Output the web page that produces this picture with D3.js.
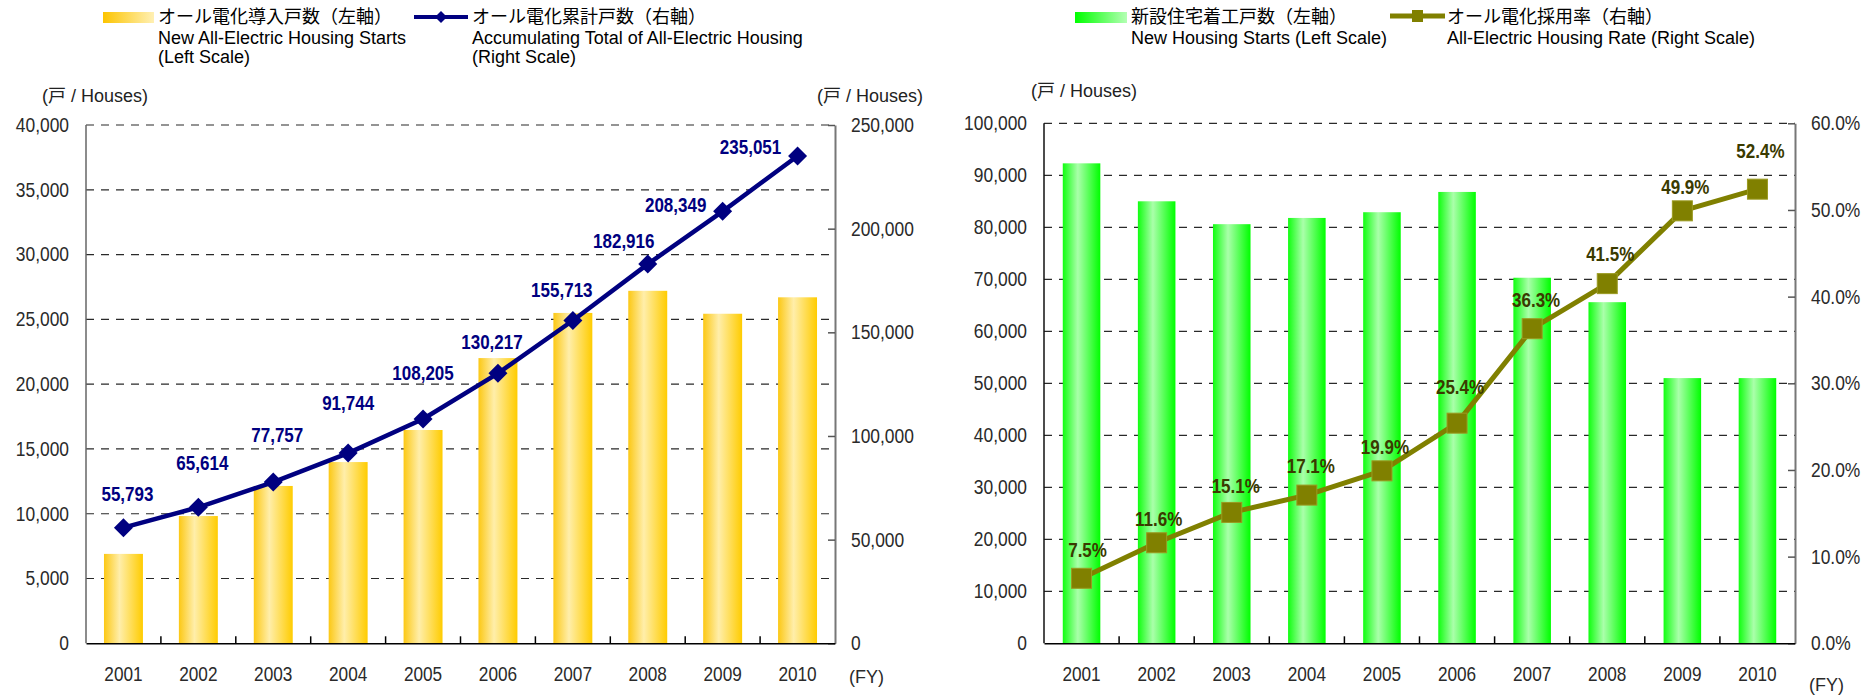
<!DOCTYPE html>
<html>
<head>
<meta charset="utf-8">
<script src="https://cdn.jsdelivr.net/npm/d3@7"></script>
<style>
  body { margin: 0; background: #fff; }
  svg { display: block; }
</style>
</head>
<body>
<div id="chart"></div>
<script>
// ---- data ----
const years = ["2001", "2002", "2003", "2004", "2005", "2006", "2007", "2008", "2009", "2010"];

// left panel
const newAllElectric = [6900, 9821, 12143, 13987, 16461, 22012, 25496, 27203, 25433, 26702];
const cumulativeAllElectric = [55793, 65614, 77757, 91744, 108205, 130217, 155713, 182916, 208349, 235051];
const startsTicks = [0, 5000, 10000, 15000, 20000, 25000, 30000, 35000, 40000];
const totalTicks = [0, 50000, 100000, 150000, 200000, 250000];

// right panel
const newHousingStarts = [92300, 85000, 80600, 81800, 82900, 86800, 70300, 65600, 51000, 51000];
const allElectricRate = [7.5, 11.6, 15.1, 17.1, 19.9, 25.4, 36.3, 41.5, 49.9, 52.4];
const housingTicks = [0, 10000, 20000, 30000, 40000, 50000, 60000, 70000, 80000, 90000, 100000];
const rateTicks = [0, 10, 20, 30, 40, 50, 60];

// label nudges in px [dx, dy to baseline], tuned by eye against the picture
const totalLabelNudge = [[4, -27], [4, -37], [4, -40], [0, -43], [0, -39], [-6, -24], [-11, -23], [-24, -16], [-47, 1], [-47, -2]];
const rateLabelNudge = [[6, -21], [2, -17], [4, -19], [4, -22], [3, -17], [3, -29], [4, -22], [3, -23], [3, -17], [3, -31]];

const width = 1876, height = 695;
const numFont = '"Liberation Sans Narrow", "Liberation Sans", sans-serif';
const latinFont = '"Liberation Sans", "Noto Sans CJK JP", sans-serif';
const jpFont = '"Noto Sans CJK JP", sans-serif';
const baseY = 643.3;

const svg = d3.select("#chart").append("svg").attr("width", width).attr("height", height);

// no narrow face installed, so squeeze the number labels horizontally
function narrow(sel, k = 0.87) {
  sel.each(function () {
    const len = this.getComputedTextLength();
    d3.select(this).attr("textLength", len * k).attr("lengthAdjust", "spacingAndGlyphs");
  });
}

// gradients for bars and legend swatches
const defs = svg.append("defs");
function grad(id, stops) {
  const lg = defs.append("linearGradient").attr("id", id).attr("x1", 0).attr("x2", 1).attr("y1", 0).attr("y2", 0);
  stops.forEach(s => lg.append("stop").attr("offset", s[0]).attr("stop-color", s[1]));
}
grad("goldBar", [[0, "#fcc814"], [0.4, "#ffeeaa"], [1, "#ffcc00"]]);
grad("greenBar", [[0, "#10ff10"], [0.4, "#aaffaa"], [1, "#00ff00"]]);
grad("goldKey", [[0, "#fcc400"], [1, "#fff0b4"]]);
grad("greenKey", [[0, "#00ff00"], [1, "#b4ffb4"]]);

function drawPanel(o) {
  const g = svg.append("g");
  const x = d3.scaleBand().domain(years).range([o.left, o.right])
    .paddingInner(o.pad).paddingOuter(o.pad / 2);
  const y = d3.scaleLinear().domain([0, d3.max(o.yTicks)]).range([baseY, o.top]);
  const y2 = d3.scaleLinear().domain([0, d3.max(o.y2Ticks)]).range([baseY, o.top]);
  const cx = d => x(d) + x.bandwidth() / 2;

  // dashed grid
  g.append("g").selectAll("line")
    .data(o.yTicks.filter(d => d > 0))
    .join("line")
    .attr("x1", o.left).attr("x2", o.right)
    .attr("y1", d => y(d)).attr("y2", d => y(d))
    .attr("stroke", "#2a2a2a").attr("stroke-width", 1.2)
    .attr("stroke-dasharray", "8,7");

  // bars
  g.append("g").selectAll("rect")
    .data(o.bars)
    .join("rect")
    .attr("x", (d, i) => x(years[i]))
    .attr("y", d => y(d))
    .attr("width", x.bandwidth())
    .attr("height", d => y(0) - y(d))
    .attr("fill", `url(#${o.grad})`);

  // left axis (labels only, line drawn below)
  const ax = g.append("g")
    .attr("transform", `translate(${o.left},0)`)
    .call(d3.axisLeft(y).tickValues(o.yTicks).tickFormat(d3.format(",")).tickSize(0).tickPadding(17));
  ax.select(".domain").remove();
  ax.selectAll("text").attr("font-family", numFont).attr("font-size", 20).attr("fill", "#2a2a2a").call(narrow);
  g.append("line").attr("x1", o.left).attr("x2", o.left).attr("y1", o.top).attr("y2", baseY)
    .attr("stroke", o.leftAxisColor).attr("stroke-width", 1.5);

  // right axis with inward ticks
  const ax2 = g.append("g")
    .attr("transform", `translate(${o.right},0)`)
    .call(d3.axisRight(y2).tickValues(o.y2Ticks).tickFormat(o.y2Format).tickSizeInner(-7).tickSizeOuter(0).tickPadding(16));
  ax2.select(".domain").attr("stroke", "#777").attr("stroke-width", 2);
  ax2.selectAll(".tick line").attr("stroke", "#555").attr("stroke-width", 1.5);
  ax2.selectAll("text").attr("font-family", numFont).attr("font-size", 20).attr("fill", "#2a2a2a").call(narrow);

  // bottom axis
  const bx = g.append("g")
    .attr("transform", `translate(0,${baseY})`)
    .call(d3.axisBottom(x).tickSize(0).tickPadding(24));
  bx.select(".domain").attr("stroke", "#000").attr("stroke-width", 1.5);
  bx.selectAll("text").attr("font-family", numFont).attr("font-size", 20).attr("fill", "#2a2a2a").call(narrow, 0.86);
  g.append("g").selectAll("line")
    .data(years.slice(0, -1))
    .join("line")
    .attr("x1", d => cx(d) + x.step() / 2).attr("x2", d => cx(d) + x.step() / 2)
    .attr("y1", baseY).attr("y2", baseY - 7)
    .attr("stroke", "#000").attr("stroke-width", 1.5);

  g.append("text")
    .attr("x", o.right + 14).attr("y", o.fyY)
    .attr("font-family", latinFont).attr("font-size", 18).attr("fill", "#2a2a2a")
    .text("(FY)");

  // line series
  const line = d3.line().x((d, i) => cx(years[i])).y(d => y2(d));
  g.append("path")
    .datum(o.series)
    .attr("d", line)
    .attr("fill", "none")
    .attr("stroke", o.lineColor)
    .attr("stroke-width", o.lineWidth)
    .attr("stroke-linejoin", "round");

  const pts = g.append("g").selectAll("g")
    .data(o.series)
    .join("g")
    .attr("transform", (d, i) => `translate(${cx(years[i])},${y2(d)})`);
  if (o.marker === "diamond") {
    pts.append("path").attr("d", "M0,-9.5L9.5,0L0,9.5L-9.5,0Z").attr("fill", o.lineColor);
  } else {
    pts.append("rect").attr("x", -10).attr("y", -10).attr("width", 20).attr("height", 20)
      .attr("fill", o.lineColor).attr("stroke", "#9a9a20").attr("stroke-width", 1);
  }

  // data labels
  g.append("g").selectAll("text")
    .data(o.series)
    .join("text")
    .attr("x", (d, i) => cx(years[i]) + o.nudge[i][0])
    .attr("y", (d, i) => y2(d) + o.nudge[i][1])
    .attr("text-anchor", "middle")
    .attr("font-family", numFont)
    .attr("font-size", 20)
    .attr("font-weight", "bold")
    .attr("fill", o.labelColor)
    .text(o.labelFormat)
    .call(narrow, 0.85);

  return { x, y, y2 };
}

// left panel
drawPanel({
  left: 86, right: 835, top: 125, pad: 0.48,
  bars: newAllElectric, grad: "goldBar",
  yTicks: startsTicks, y2Ticks: totalTicks, y2Format: d3.format(","),
  series: cumulativeAllElectric, lineColor: "#000080", lineWidth: 4.5, marker: "diamond",
  labelColor: "#000080", labelFormat: d3.format(","), nudge: totalLabelNudge,
  leftAxisColor: "#666", fyY: 683
});

// right panel
drawPanel({
  left: 1044, right: 1795, top: 123.3, pad: 0.5,
  bars: newHousingStarts, grad: "greenBar",
  yTicks: housingTicks, y2Ticks: rateTicks, y2Format: d => d3.format(".1f")(d) + "%",
  series: allElectricRate, lineColor: "#808000", lineWidth: 5, marker: "square",
  labelColor: "#3a3a00", labelFormat: d => d3.format(".1f")(d) + "%", nudge: rateLabelNudge,
  leftAxisColor: "#111", fyY: 691
});

// unit labels
[[42, 102], [817, 102], [1031, 97]].forEach(p => {
  svg.append("text").attr("x", p[0]).attr("y", p[1])
    .attr("font-family", latinFont).attr("font-size", 18).attr("fill", "#222")
    .text("(戸 / Houses)");
});

// legends
function legendText(xPos, lines) {
  const t = svg.append("g");
  lines.forEach((s, i) => {
    t.append("text").attr("x", xPos).attr("y", [23, 44, 63][i])
      .attr("font-family", i === 0 ? jpFont : latinFont)
      .attr("font-size", 18)
      .attr("fill", "#000")
      .text(s);
  });
}

svg.append("rect").attr("x", 103).attr("y", 12).attr("width", 51).attr("height", 11).attr("fill", "url(#goldKey)");
legendText(158, ["オール電化導入戸数（左軸）", "New All-Electric Housing Starts", "(Left Scale)"]);

svg.append("line").attr("x1", 414).attr("x2", 468).attr("y1", 17).attr("y2", 17)
  .attr("stroke", "#000080").attr("stroke-width", 4);
svg.append("path").attr("d", "M441,11L447,17L441,23L435,17Z").attr("fill", "#000080");
legendText(472, ["オール電化累計戸数（右軸）", "Accumulating Total of All-Electric Housing", "(Right Scale)"]);

svg.append("rect").attr("x", 1075).attr("y", 12).attr("width", 52).attr("height", 11).attr("fill", "url(#greenKey)");
legendText(1131, ["新設住宅着工戸数（左軸）", "New Housing Starts (Left Scale)"]);

svg.append("line").attr("x1", 1390).attr("x2", 1445).attr("y1", 16).attr("y2", 16)
  .attr("stroke", "#808000").attr("stroke-width", 5);
svg.append("rect").attr("x", 1412).attr("y", 10).attr("width", 11).attr("height", 12).attr("fill", "#808000");
legendText(1447, ["オール電化採用率（右軸）", "All-Electric Housing Rate (Right Scale)"]);
</script>
</body>
</html>
